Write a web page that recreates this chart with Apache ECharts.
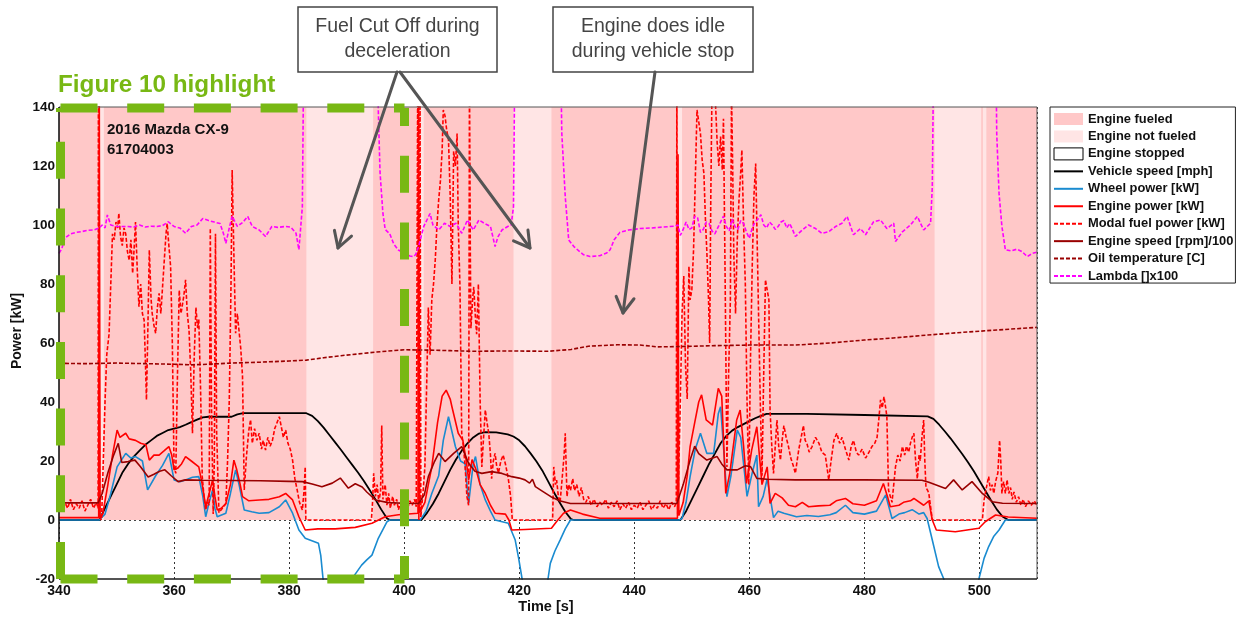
<!DOCTYPE html>
<html><head><meta charset="utf-8">
<script src="https://cdn.jsdelivr.net/npm/echarts@6/dist/echarts.min.js"></script>
<style>html,body{margin:0;padding:0;background:#fff}#c{width:1244px;height:620px}</style>
</head><body><div id="c"></div>
<script>
// ---------------- data ----------------
const xRange = [340, 510];
const yRange = [-20, 140];
const fueledIntervals = [[340, 510]];
const notFueledIntervals = [[347.0,347.8],[383.0,394.6],[402.8,403.4],[419.0,425.6],[447.6,448.3],[492.2,500.3],[500.6,501.2]];
const stoppedIntervals = [];

const vehicleSpeed = [[340,0],[347,0],[348,4],[349,8],[350,12],[351,16],[352,19],[353,21.5],[354,23.5],[355,25.5],[356,27],[357,28.5],[358,29.5],[359,30.5],[360,31],[361,31.5],[362,32.3],[363,33.2],[364,34],[365,34.8],[366,35],[370,35],[371,35.8],[372,36.2],[383,36.2],[384,35.3],[385,33.5],[386,31.3],[387,28.8],[388,26.3],[389,23.8],[390,21.2],[391,18.6],[392,16],[393,13.2],[394,10.2],[395,7],[396,3.6],[397,0.6],[397.5,0],[403,0],[404,2.5],[405,5.5],[406,9],[407,13],[408,17],[409,20.5],[410,23.5],[411,26],[412,28],[413,29.3],[414,29.8],[416,29.7],[418,29],[419,28.3],[420,27],[421,25],[422,22.5],[423,19.8],[424,16.8],[425,13.2],[426,9.5],[427,6],[428,2.8],[429,0.3],[429.5,0],[448,0],[449,3],[450,7],[451,11],[452,15],[453,19],[454,22.5],[455,26],[456,28.5],[457,30.3],[458,31.5],[459,32.5],[460,33.5],[461,34.5],[462,35.3],[463,36],[470,36],[480,35.6],[491,35.1],[492,34.3],[493,32.3],[494,30],[495,27.6],[496,25],[497,22.4],[498,19.6],[499,16.6],[500,13.3],[501,10],[502,6.7],[503,3.6],[504,1.2],[505,0],[510,0]];

const wheelPower = [[340,0],[347,0],[348,2],[349,9],[350.1,18],[351.6,22.6],[352.5,21],[353.3,21.5],[354.5,20],[355.4,10.2],[356.8,15],[358,18.5],[359.1,22.6],[360,13.6],[361,13],[362,13.6],[363.2,14.5],[364.3,14.7],[365,8],[365.5,1.1],[366.1,6],[366.7,10.2],[367.1,4],[367.5,1.1],[369,2.3],[369.8,9],[370.7,17],[371.3,12],[372.2,3.4],[373.5,2.8],[374.8,2.3],[376.5,2.5],[378.3,4.5],[379.4,6.8],[380.6,2.3],[381.7,-3.4],[382.8,-6.2],[385.1,-7.9],[385.5,-12],[385.8,-18],[386.2,-26],[390.5,-26],[390.9,-20],[391.8,-17.5],[392.6,-15.3],[393.5,-13.5],[394.4,-11.9],[395.5,-6.2],[397,-0.6],[397.5,0],[402.8,0],[403.8,3],[404.8,9],[406,15],[406.8,27],[407.7,35],[408.3,30],[408.9,24.9],[409.8,20],[410.6,19],[411.2,5.5],[412,19],[412.4,21.5],[413.2,12],[414.1,6.8],[415,3],[415.8,0],[418.1,-1.1],[419.3,-6.8],[419.9,-13],[420.5,-20],[421,-27],[424.7,-27],[425,-20],[425.4,-14.7],[426.2,-10.5],[427.1,-6.8],[428,-3],[428.9,0],[447.8,0],[448.3,0.5],[449,6],[449.7,14.7],[450.6,24],[451.5,29.4],[452.6,22.6],[453.8,22.6],[454.6,36],[455,38.4],[455.5,25],[456.1,7.9],[456.8,15],[457.9,30.5],[458.5,28],[459.6,8],[460.5,16],[461.3,22],[461.6,4.5],[462.4,8],[463.1,14],[464.2,0.8],[465,3],[466,2.3],[468.2,1.1],[470,1.5],[472,1.2],[474,1.8],[475.1,2.5],[476.7,5],[478,2.5],[480,2],[482.1,3],[483.7,8.5],[484.8,0.5],[486,2],[487,2.5],[488.3,3.5],[489.5,2],[490.3,2.5],[490.9,0.5],[491.8,-6.8],[492.9,-15.8],[493.8,-20],[494.2,-27],[499.5,-27],[499.9,-20],[500.8,-13],[501.6,-9],[502.5,-5.5],[503.4,-3.4],[504.5,0],[510,0]];

const enginePower = [[340,0.8],[346.9,0.8],[347.0,145],[347.15,1],[347.6,2],[348.5,12],[349.3,22],[350.1,30.5],[350.6,28],[351.6,29.4],[352.2,27.5],[353.3,27],[354.2,26],[355.1,25.5],[355.7,20.3],[356.5,22],[357.4,22],[358.3,23.5],[359.1,24.9],[359.6,22],[360,17],[360.6,17.5],[361.3,19],[362,21.5],[363,20],[364.3,18],[364.9,12],[365.5,4.5],[366.1,9],[366.7,13.6],[367.1,8],[367.5,3.4],[368.2,4],[369,5.6],[369.8,12],[370.4,20.3],[370.9,17],[371.5,12],[371.9,7.9],[373,6.5],[374.8,6.8],[376.5,7],[378.3,7.9],[379.4,9],[380.6,6.8],[381.7,1.1],[382.8,-3.4],[385,-3],[388,-3],[391.5,-2.5],[394.4,-1.1],[396.7,1.1],[399,1.8],[402.4,2.3],[402.5,145],[402.7,2.5],[403.6,6],[404.8,18],[405.8,33],[406.6,42],[407.3,44],[408,41],[408.3,38.4],[409.4,29.4],[410.2,27],[410.8,20],[411.2,13.6],[411.8,20.5],[412.5,17],[413.2,12],[414.1,9],[415,5],[415.8,2.3],[417.6,2],[418.2,0],[418.7,-3.4],[421,-3.2],[425.6,-2.8],[426.5,-0.5],[427.7,2.3],[428.9,3.4],[431,2],[434,0.6],[447.5,0.6],[447.6,124],[447.75,1.5],[448.5,6],[449.2,15],[449.7,24.9],[450.5,33],[451.2,40],[451.7,42.4],[452.5,33.9],[453.6,32.2],[454.6,44.6],[455.2,42],[455.9,9],[456.6,15.9],[457.8,33.9],[458.4,37.3],[459,25],[459.5,12.4],[460.4,23.7],[461.3,31.6],[462.2,12],[463.1,18],[463.6,5.6],[464.5,9],[465.7,7.5],[466.8,5],[468,4.5],[469.2,6],[470.3,4.5],[472,4.8],[474,5],[475.1,6.5],[476.7,7.3],[478,5.5],[480,5],[482.1,6.5],[483.3,12.4],[484,8],[484.5,4.5],[486,5],[486.8,6],[488,6.5],[488.6,7.3],[490.3,5],[491.2,6.5],[491.8,0],[492.5,-3.4],[495.8,-4],[499.9,-2.8],[501,-0.6],[502.8,1.7],[505,1],[510,0.6]];

const modalFuelPower = [[340,5],[340.5,3],[341,6],[341.5,4],[342,7],[342.5,3.5],[343,5.5],[343.5,4],[344,6.5],[344.5,3],[345,5],[345.5,7],[346,4],[346.5,6],[346.8,4],[346.85,150],[346.95,150],[347.0,1],[347.4,0],[347.7,0],[348.0,40],[348.3,56],[348.7,63],[349.0,80],[349.3,97],[349.6,95],[349.9,101],[350.2,99],[350.4,104],[350.7,96],[351.0,93],[351.3,99],[351.6,97],[351.9,91],[352.2,88],[352.5,95],[352.8,83.6],[353.0,90],[353.3,101],[353.6,85],[353.9,72.3],[354.2,80],[354.5,70],[354.8,67.8],[355.0,55],[355.2,40.7],[355.4,60],[355.7,91.5],[356.0,75],[356.2,70],[356.5,66],[356.8,63.3],[357.1,72],[357.4,76.8],[357.7,70],[358.0,79],[358.3,88],[358.6,97],[358.8,100.5],[359.1,93],[359.4,85.9],[359.7,60],[360.0,18],[360.3,15.8],[360.6,50],[360.9,77.9],[361.2,70],[361.4,72.3],[361.7,76],[362.0,81.4],[362.3,70],[362.6,64.4],[362.9,50],[363.2,29.4],[363.5,55],[363.8,72],[364.1,65],[364.3,68],[364.6,45],[364.9,14.7],[365.2,8],[365.5,3.4],[365.8,6],[366.1,5],[366.3,98.9],[366.5,40],[366.8,2],[367.0,20],[367.2,97],[367.4,30],[367.8,2.5],[368.4,4],[369.0,5.5],[369.3,20],[369.6,40.7],[369.9,80],[370.1,118.6],[370.4,90],[370.7,63.3],[371.0,70],[371.3,70],[371.6,58],[371.9,48.6],[372.2,10.2],[372.6,22],[373.0,30.5],[373.3,34],[373.6,26],[374.0,31],[374.4,27],[374.8,29.4],[375.2,24],[375.5,27],[375.9,23.7],[376.3,28],[376.7,25],[377.1,27],[377.5,31],[377.9,33],[378.3,35],[378.6,32],[379.0,28],[379.4,30.5],[379.8,26],[380.2,24],[380.6,20.3],[381.0,14],[381.4,10.2],[381.8,6],[382.3,3.4],[382.6,10],[382.8,18],[382.9,0],[394.3,0],[394.5,6],[394.7,15.8],[395.0,8],[395.3,12],[395.6,6],[395.9,10],[396.1,32],[396.3,7],[396.7,12],[397.0,5],[397.3,9],[397.6,4],[398.0,8],[398.3,5],[398.7,7],[399.0,3.5],[399.4,6],[399.8,4.5],[400.2,7],[400.6,4],[401.0,6.5],[401.4,5],[401.8,7],[402.1,4.5],[402.35,150],[402.55,0],[402.75,150],[402.9,1],[403.3,10],[403.6,18],[403.9,45],[404.2,72],[404.5,56],[404.8,74.6],[405.1,80],[405.4,88],[405.7,100],[406.0,108.5],[406.3,115],[406.6,125.4],[406.8,139],[407.1,137],[407.4,132],[407.7,129],[408.0,110],[408.3,80],[408.6,125],[408.9,120],[409.2,131],[409.4,100],[409.7,79],[410.0,29.4],[410.3,25],[410.6,18],[410.9,8],[411.2,5],[411.35,150],[411.5,90],[411.6,65],[411.9,75],[412.1,79],[412.4,68],[412.6,63],[412.9,80],[413.2,40.7],[413.5,18],[413.8,28],[414.1,37.3],[414.4,33],[414.7,29.4],[415.0,22],[415.2,14],[415.5,20],[415.8,22.6],[416.1,18],[416.4,16],[416.8,20],[417.2,22],[417.6,19],[418.1,14],[418.5,8],[418.8,0],[425.8,0],[426.0,18],[426.3,12],[426.5,13.5],[426.8,8],[427.1,6],[427.5,15],[427.8,22],[428.0,29.4],[428.3,8],[428.6,12],[428.9,10],[429.3,14],[429.6,10],[430,12],[430.4,8],[430.8,11],[431.2,7],[431.6,6],[432,8],[432.5,5],[433,7],[433.5,4.5],[434,6],[434.5,5],[435,7],[435.5,4],[436,6],[436.5,4.5],[437,6.5],[437.5,3.5],[438,5.5],[438.5,4],[439,6],[439.5,3.5],[440,5],[440.5,4],[441,6],[441.5,3.5],[442,5],[442.5,6.5],[443,3.5],[443.5,5],[444,4],[444.5,6.5],[445,4],[445.5,5.5],[446,3.5],[446.5,6],[447,4.5],[447.3,6],[447.4,150],[447.55,2],[448,40],[448.3,70],[448.6,82.7],[448.9,52.5],[449.2,41],[449.5,86],[449.7,74.6],[450.0,78],[450.3,91.5],[450.6,115],[450.9,139],[451.2,135],[451.5,131],[451.8,122],[452.1,117.5],[452.4,100],[452.6,91.5],[452.9,75],[453.1,60],[453.3,110],[453.5,145],[453.8,145],[454.1,142],[454.4,128],[454.7,120],[455.0,130],[455.3,118.6],[455.5,136],[455.8,80],[456.1,18],[456.4,50],[456.7,74.6],[456.9,145],[457.1,120],[457.3,90],[457.6,70],[457.9,95],[458.2,108.5],[458.5,118],[458.7,125.4],[459.0,100],[459.3,80],[459.6,40],[459.9,12],[460.2,55],[460.5,86],[460.8,110],[461.1,120.8],[461.4,90],[461.6,70],[461.9,40],[462.2,15],[462.5,50],[462.8,81.4],[463.1,78],[463.4,74.6],[463.6,37.3],[463.9,25],[464.2,15.8],[464.5,25],[464.8,33.9],[465.1,25],[465.4,20.3],[465.7,27],[466.0,32],[466.4,28],[466.8,24.9],[467.2,21],[467.7,18],[468.0,15.8],[468.3,20],[468.6,24],[469.0,28],[469.4,32],[469.7,27],[470.0,26],[470.4,23],[470.9,24.9],[471.5,28],[472.1,26],[472.6,23],[473.2,22],[473.8,13.6],[474.2,20],[474.7,27],[475.2,29.4],[475.7,26],[476.1,28],[476.7,24],[477.3,20.3],[477.7,25],[478.1,27],[478.6,23],[479.0,22],[479.6,24],[480.2,21],[480.8,23],[481.3,24.9],[481.8,26],[482.2,28],[482.5,34],[482.8,40.7],[483.1,38],[483.4,41.8],[483.7,38],[483.9,35],[484.2,10],[484.5,8],[484.8,6],[485.1,12],[485.4,18],[485.8,22],[486.2,20],[486.6,24.9],[487.0,22],[487.3,25],[487.7,23],[488.0,26],[488.3,28],[488.6,29.4],[488.9,20],[489.2,14],[489.5,22],[489.7,20],[490.0,28],[490.3,33.9],[490.5,20],[490.7,11],[491.0,10],[491.2,9],[491.6,3],[491.8,0],[500.5,0],[500.8,6.8],[501.2,11],[501.6,14.7],[501.9,10],[502.2,12],[502.5,9],[502.8,13],[503.2,16],[503.5,27],[503.7,20],[503.9,9],[504.2,13],[504.5,9],[504.8,13.6],[505.1,9],[505.4,11],[505.7,7],[506.0,9.5],[506.4,6],[506.8,7.9],[507.2,5],[507.6,7],[508,4.5],[508.5,6.5],[509,5],[509.5,6.5],[510,5]];

const engineSpeed = [[340,5.8],[346.8,5.8],[347.5,9],[348.5,16],[349.5,22],[350.3,26],[350.9,19.5],[352,19.8],[353.2,20.3],[354.2,18],[355.5,14.6],[356.5,15.5],[357.5,16.5],[358.4,17],[359.5,15],[360.7,13],[362,13.6],[365,13.5],[370,13.4],[375,13.3],[380,13.1],[382.3,13],[384,12.2],[385.7,11.3],[387.5,12.5],[388.9,14.2],[390.3,10.8],[391.5,12.3],[392.7,11.2],[393.5,9.5],[395,6.8],[397.2,5.9],[400,5.7],[402.5,5.6],[403.5,8.5],[404.2,14.7],[405.2,19.5],[406,22.6],[407.1,19.8],[408.6,22.6],[410,24.9],[411.2,19.2],[412.3,16.5],[413.5,15.8],[415.2,16.4],[417,15.8],[418.7,14.7],[420,14.2],[421,13.6],[421.8,12.5],[422.3,13.8],[422.8,11.3],[424,9.8],[425.5,7.9],[427,6.5],[428.9,5.6],[447.4,5.6],[448.5,12],[449.7,20.3],[450.5,25],[451.2,22.5],[452.6,20.3],[454.4,21.5],[455.2,19],[456.1,17],[457.9,17],[459.3,18.4],[460.2,18.1],[461.3,14.1],[463,13.8],[468,13.6],[480,13.6],[490,13.5],[491.2,12.8],[494.1,10.7],[495.5,13.6],[497,10.2],[498.7,13],[500.5,9],[502.2,6.2],[504,5.7],[510,5.6]];

const oilTemperature = [[340,53.1],[345,53.0],[350,53.2],[355,53.0],[360,52.8],[363,52.6],[366,52.8],[370,53.2],[375,53.5],[380,53.9],[383,54.2],[386,55],[389,55.7],[392,56.3],[395,56.9],[398,57.4],[400,57.7],[404,57.6],[408,57.4],[412,57.2],[418,57.3],[425,57.2],[429,57.8],[432,58.9],[437,59.4],[441,59.3],[444,58.7],[448,58.8],[454,59.1],[460,59.3],[468,59.3],[474,60.0],[480,61.0],[485,61.7],[491,62.7],[497,63.6],[503,64.4],[510,65.3]];

const lambdaX100 = [[340,90.4],[340.5,92],[341,95.5],[342,97],[343,97.5],[344,97.8],[345,98.2],[346,98.3],[347,99],[347.5,100],[348,99],[348.4,103.4],[349,100],[350,99.5],[351,99.5],[352,99.5],[353,99.3],[354,100],[355,99.3],[356,99.6],[357,99.5],[358,99.8],[359,101.1],[360,99.5],[361,99],[362,97.2],[363,99.5],[364,100],[365,102.2],[366,101.5],[367,101],[368,100.5],[368.6,97],[369,93.8],[369.6,99],[370.1,103],[371,99.5],[372,101],[372.8,102.9],[373.6,99.5],[374.8,98.3],[375.9,96.1],[377,99.5],[378,99.2],[379.4,99.5],[380.3,99.3],[381.2,97.2],[381.7,91.6],[382.3,106.2],[382.6,170],[395.3,170],[395.5,139],[395.8,118],[396.3,104],[396.7,98.5],[397.5,97],[398.2,93.5],[399,91.5],[400,90.5],[401,89.5],[401.6,89.3],[402,90],[402.5,92.7],[403.4,99.5],[404.5,103.9],[405,100],[406,98.3],[407,100.6],[408,99.5],[409,100.6],[410,97.2],[411,101.7],[412,98.3],[413,101.7],[414,100.5],[415,99.5],[415.8,92.7],[416.3,96],[417,98.3],[418,99.5],[418.6,100],[419,106.2],[419.3,170],[427.1,170],[427.4,131],[428,109.6],[428.6,94.9],[429.5,92.7],[430.5,91],[431.2,89.9],[432.3,89.3],[434,89.6],[435.2,90.5],[435.8,91.6],[436.5,95],[437.5,97.5],[439,98.3],[441,98.8],[443,99],[445,99.3],[447,99.6],[447.6,100],[448,96.5],[448.5,98.5],[449,101],[449.5,98.5],[450,99],[450.5,103],[451,102.5],[451.5,97.5],[452,98.5],[452.5,101],[453,100.5],[453.5,98],[454,97],[454.5,99],[455,101],[455.5,103],[456,99.5],[456.5,98],[457,102],[457.5,99.5],[458,98.5],[458.5,101.5],[459,100.5],[459.5,97.5],[460,95.5],[460.5,99],[461,101],[461.5,102],[462,103.5],[462.5,100],[463,99],[463.5,101],[464,100],[464.5,98.5],[465,99.5],[465.5,101],[466,101.5],[466.5,99],[467,100.5],[467.5,98.5],[468,96.1],[469.2,98.3],[470.3,100],[471.5,98.8],[472.6,97.2],[473.8,97.7],[475,99.5],[476.1,100.6],[477,102.9],[478.1,96.7],[479.3,98.8],[480.2,96.7],[481.6,101.1],[482.8,101.7],[483.9,98.8],[485.1,100.6],[485.4,94.4],[486.6,97.7],[488,100],[489.2,102.9],[490.3,98.3],[491.5,100.6],[491.8,113],[492.1,170],[502.8,170],[503,131],[503.4,110.8],[503.9,99.5],[504.5,91.6],[505.5,91.2],[506.5,91.8],[507.4,91],[508.3,89.3],[509.2,90.4],[510,90.8]];

// ---------------- styling ----------------
const COL = {fueled:'#FFC8C8', notFueled:'#FFE5E5', speed:'#000000', wheel:'#1A8BD0', engine:'#FF0000',
  fuel:'#FF0000', rpm:'#990000', oil:'#990000', lambda:'#FF00FF', green:'#78B814', note:'#444444'};
const FONT = 'Liberation Sans, Arial, sans-serif';
const G = {left:59, top:107, right:1037, bottom:579};

const chart = echarts.init(document.getElementById('c'), null, {renderer:'canvas'});

function bands(list){ return list.map(([a,b]) => [{xAxis:a, yAxis:0},{xAxis:b, yAxis:140}]); }
function bandSeries(name, list, style, z){
  return {name, type:'line', data:[], z, silent:true, symbol:'none', itemStyle:style, color:style.color,
    markArea:{silent:true, itemStyle:Object.assign({opacity:1}, style), data:bands(list)}};
}
function lineSeries(name, data, color, dashed, width){
  return {name, type:'line', data, z:5, symbol:'none', showSymbol:false, clip:true, color,
    lineStyle:{color, width, type: dashed ? [4,2] : 'solid'}, itemStyle:{color}, emphasis:{disabled:true}, animation:false};
}

function arrow(x1,y1,x2,y2){
  const L = 18, th = 30*Math.PI/180;
  const dx = x1-x2, dy = y1-y2, d = Math.hypot(dx,dy), ux = dx/d, uy = dy/d;
  const w1 = [x2 + L*(ux*Math.cos(th) - uy*Math.sin(th)), y2 + L*(ux*Math.sin(th) + uy*Math.cos(th))];
  const w2 = [x2 + L*(ux*Math.cos(-th) - uy*Math.sin(-th)), y2 + L*(ux*Math.sin(-th) + uy*Math.cos(-th))];
  const st = {stroke:'#555555', lineWidth:3, fill:null, lineCap:'round', lineJoin:'round'};
  return [
    {type:'line', z:100, shape:{x1,y1,x2,y2}, style:st},
    {type:'polyline', z:100, shape:{points:[w1,[x2,y2],w2]}, style:st}
  ];
}
function noteBox(x,y,w,h,lines){
  const els = [{type:'rect', z:100, shape:{x,y,width:w,height:h}, style:{fill:'#fff', stroke:'#444', lineWidth:1.5}}];
  lines.forEach((t,i)=> els.push({type:'text', z:101, x:x+w/2, y:y+20+i*25,
    style:{text:t, font:'19.5px '+FONT, fill:COL.note, align:'center', verticalAlign:'middle'}}));
  return els;
}
const GB = {l:60.5, t:108, r:404.5, b:579};
const gStyle = (off)=>({stroke:COL.green, lineWidth:9, lineDash:[37,29.7], lineDashOffset:off, lineCap:'butt'});

const graphics = [].concat(
  [{type:'rect', z:50, shape:{x:G.left, y:G.top, width:G.right-G.left, height:G.bottom-G.top}, style:{fill:null, stroke:'#555', lineWidth:1}}],
  [{type:'line', z:51, shape:{x1:G.left, y1:G.top, x2:G.left, y2:G.bottom}, style:{stroke:'#000', lineWidth:1.2}},
   {type:'line', z:51, shape:{x1:G.left, y1:G.bottom, x2:G.right, y2:G.bottom}, style:{stroke:'#000', lineWidth:1.2}}],
  [{type:'line', z:90, shape:{x1:GB.l, y1:GB.t, x2:GB.r, y2:GB.t}, style:gStyle(0)},
   {type:'line', z:90, shape:{x1:GB.r, y1:GB.t, x2:GB.r, y2:GB.b}, style:gStyle(19)},
   {type:'line', z:90, shape:{x1:GB.l, y1:GB.b, x2:GB.r, y2:GB.b}, style:gStyle(0)},
   {type:'line', z:90, shape:{x1:GB.l, y1:GB.b, x2:GB.l, y2:GB.t}, style:gStyle(0)}],
  [{type:'text', z:100, x:58, y:85, style:{text:'Figure 10 highlight', font:'bold 24.3px '+FONT, fill:COL.green, verticalAlign:'middle'}}],
  [{type:'text', z:100, x:107, y:130, style:{text:'2016 Mazda CX-9', font:'bold 15px '+FONT, fill:'#111', verticalAlign:'middle'}},
   {type:'text', z:100, x:107, y:150, style:{text:'61704003', font:'bold 15px '+FONT, fill:'#111', verticalAlign:'middle'}}],
  [{type:'text', z:100, x:17, y:331, rotation:Math.PI/2, style:{text:'Power [kW]', font:'bold 14px '+FONT, fill:'#111', align:'center', verticalAlign:'middle'}},
   {type:'text', z:100, x:546, y:607, style:{text:'Time [s]', font:'bold 14.5px '+FONT, fill:'#111', align:'center', verticalAlign:'middle'}}],
  noteBox(298,7,199,65,['Fuel Cut Off during','deceleration']),
  noteBox(553,7,200,65,['Engine does idle','during vehicle stop']),
  arrow(397,72,338,248),
  arrow(400,72,530,248),
  arrow(655,72,623,313)
);

const lineLegend = (name)=>({name, itemStyle:{opacity:0}});

const option = {
  animation:false,
  backgroundColor:'#fff',
  grid:{left:G.left, top:G.top, width:G.right-G.left, height:G.bottom-G.top, containLabel:false, show:false},
  xAxis:{type:'value', min:xRange[0], max:xRange[1], interval:20, z:0,
    axisLine:{show:false}, axisTick:{show:true, inside:true, length:6, lineStyle:{color:'#000', width:1.2}},
    axisLabel:{showMaxLabel:false, color:'#111', fontWeight:'bold', fontSize:14, fontFamily:FONT, margin:5},
    splitLine:{show:true, lineStyle:{type:[2,3], color:'#333', width:1}}},
  yAxis:{type:'value', min:yRange[0], max:yRange[1], interval:20, z:0,
    axisLine:{show:false}, axisTick:{show:false},
    axisLabel:{color:'#111', fontWeight:'bold', fontSize:13.5, fontFamily:FONT, margin:4},
    splitLine:{show:false}},
  legend:{left:1050, top:107, orient:'vertical', selectedMode:false, backgroundColor:'#fff',
    borderColor:'#222', borderWidth:1, padding:[5,2,0,3], itemGap:3.45, itemWidth:29, itemHeight:12,
    textStyle:{color:'#111', fontWeight:'bold', fontSize:12.9, fontFamily:FONT, lineHeight:14},
    data:[
      {name:'Engine fueled', icon:'rect', itemStyle:{color:COL.fueled}},
      {name:'Engine not fueled', icon:'rect', itemStyle:{color:COL.notFueled}},
      {name:'Engine stopped', icon:'rect', itemStyle:{color:'#fff', borderColor:'#000', borderWidth:1}},
      lineLegend('Vehicle speed [mph]'), lineLegend('Wheel power [kW]'), lineLegend('Engine power [kW]'),
      lineLegend('Modal fuel power [kW]'), lineLegend('Engine speed [rpm]/100'),
      lineLegend('Oil temperature [C]'), lineLegend('Lambda []x100')]},
  graphic:graphics,
  series:[
    bandSeries('Engine fueled', fueledIntervals, {color:COL.fueled}, 1),
    bandSeries('Engine not fueled', notFueledIntervals, {color:COL.notFueled}, 2),
    bandSeries('Engine stopped', stoppedIntervals, {color:'#fff', borderColor:'#000', borderWidth:1}, 3),
    {name:'zeroLine', type:'line', data:[], z:4, silent:true,
      markLine:{silent:true, symbol:'none', label:{show:false}, lineStyle:{type:[2,3], color:'#444', width:1}, data:[{yAxis:0}]}},
    lineSeries('Vehicle speed [mph]', vehicleSpeed, COL.speed, false, 1.8),
    lineSeries('Wheel power [kW]', wheelPower, COL.wheel, false, 1.6),
    lineSeries('Engine power [kW]', enginePower, COL.engine, false, 1.6),
    lineSeries('Modal fuel power [kW]', modalFuelPower, COL.fuel, true, 1.6),
    lineSeries('Engine speed [rpm]/100', engineSpeed, COL.rpm, false, 1.6),
    lineSeries('Oil temperature [C]', oilTemperature, COL.oil, true, 1.6),
    lineSeries('Lambda []x100', lambdaX100, COL.lambda, true, 1.6)
  ]
};
chart.setOption(option);
</script></body></html>
